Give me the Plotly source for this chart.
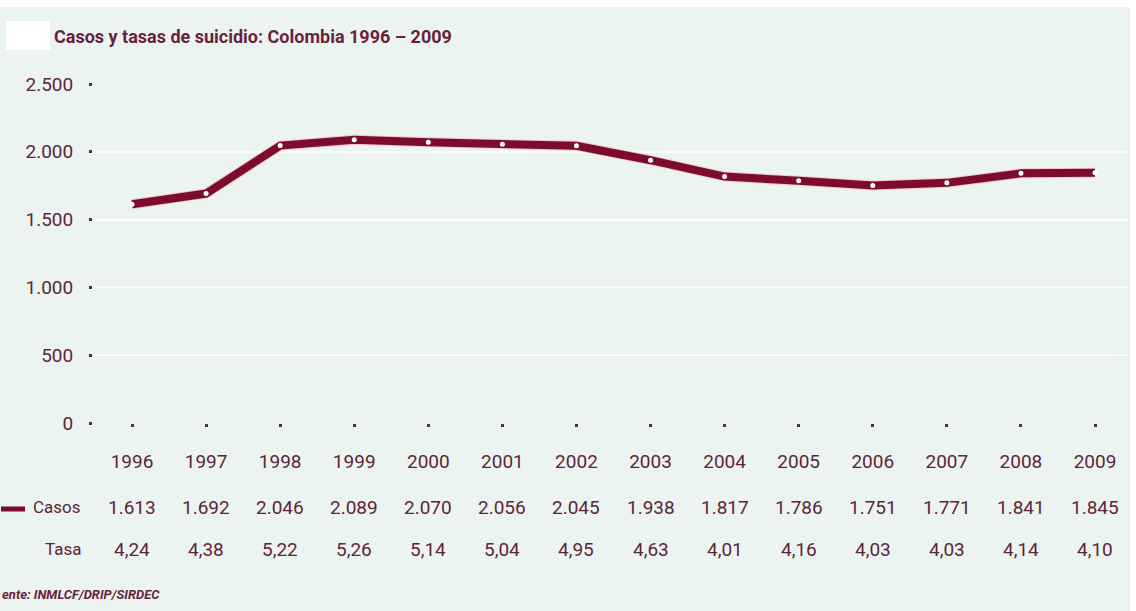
import plotly.graph_objects as go

# Data: suicide cases and rates in Colombia
years = [1996, 1997, 1998, 1999, 2000, 2001, 2002, 2003, 2004, 2005, 2006, 2007, 2008, 2009]
casos = [1613, 1692, 2046, 2089, 2070, 2056, 2045, 1938, 1817, 1786, 1751, 1771, 1841, 1845]
tasa = [4.24, 4.38, 5.22, 5.26, 5.14, 5.04, 4.95, 4.63, 4.01, 4.16, 4.03, 4.03, 4.14, 4.10]
y_ticks = [0, 500, 1000, 1500, 2000, 2500]
y_ticktext = ["0", "500", "1.000", "1.500", "2.000", "2.500"]

W, H = 1136, 611
ML, MR, MT, MB = 93, 8, 84, 188
PW, PH = W - ML - MR, H - MT - MB

FONT = "Roboto, Liberation Sans, sans-serif"
TEXT = "#5e2538"
MAROON = "#7b0c2c"
PAGE = "#ecf4f1"
PLOT = "#d6e9e1"
FS = 19


def px(x):
    return (x - ML) / PW


def py(y):
    return (MT + PH - y) / PH


def fmt_int(v):
    return f"{v:,}".replace(",", ".")


def fmt_dec(v):
    return f"{v:.2f}".replace(".", ",")


fig = go.Figure()

# light halo under the line
fig.add_trace(go.Scatter(
    x=years, y=casos, mode="lines",
    line=dict(color="#f1c6cd", width=10),
    hoverinfo="skip", showlegend=False,
))
fig.add_trace(go.Scatter(
    x=years, y=casos, mode="lines+markers",
    line=dict(color=MAROON, width=8),
    marker=dict(color="white", size=5),
    showlegend=False,
))

annotations = []
for yr, c, t in zip(years, casos, tasa):
    annotations.append(dict(x=yr, xref="x", y=py(507), yref="paper", text=fmt_int(c),
                            showarrow=False, xanchor="center", yanchor="middle",
                            font=dict(family=FONT, size=FS, color=TEXT)))
    annotations.append(dict(x=yr, xref="x", y=py(549), yref="paper", text=fmt_dec(t),
                            showarrow=False, xanchor="center", yanchor="middle",
                            font=dict(family=FONT, size=FS, color=TEXT)))

annotations += [
    dict(x=px(83), y=py(507), xref="paper", yref="paper", text="Casos", showarrow=False,
         xanchor="right", yanchor="middle", font=dict(family=FONT, size=17, color=TEXT)),
    dict(x=px(83), y=py(549), xref="paper", yref="paper", text="Tasa", showarrow=False,
         xanchor="right", yanchor="middle", font=dict(family=FONT, size=17, color=TEXT)),
    dict(x=px(52), y=py(36), xref="paper", yref="paper",
         text="<b>Casos y tasas de suicidio: Colombia 1996 – 2009</b>", showarrow=False,
         xanchor="left", yanchor="middle", font=dict(family=FONT, size=18, color="#6a1f3e")),
    dict(x=px(0), y=py(594), xref="paper", yref="paper",
         text="<b><i>ente: INMLCF/DRIP/SIRDEC</i></b>", showarrow=False,
         xanchor="left", yanchor="middle", font=dict(family=FONT, size=13, color="#6a1f3e")),
]

shapes = [
    # page background with white borders
    dict(type="rect", xref="paper", yref="paper", x0=px(0), x1=px(1130), y0=py(611), y1=py(7),
         fillcolor=PAGE, line=dict(width=0), layer="below"),
    # white patch at top-left
    dict(type="rect", xref="paper", yref="paper", x0=px(6), x1=px(50), y0=py(50), y1=py(21),
         fillcolor="white", line=dict(width=0), layer="below"),
    # legend line for Casos
    dict(type="line", xref="paper", yref="paper", x0=px(1), x1=px(25), y0=py(509), y1=py(509),
         line=dict(color=MAROON, width=5)),
]

fig.update_layout(
    width=W, height=H,
    margin=dict(l=ML, r=MR, t=MT, b=MB, pad=0),
    paper_bgcolor="white",
    plot_bgcolor=PLOT,
    showlegend=False,
    annotations=annotations,
    shapes=shapes,
    xaxis=dict(
        range=[1996 - 39 / 74.08, 2009 + 33 / 74.08],
        tickmode="array", tickvals=years, ticktext=[str(y) for y in years],
        showgrid=False, zeroline=False, showline=False,
        ticks="outside", ticklen=3, tickwidth=3, tickcolor="#3a3a3a",
        ticklabelstandoff=18,
        tickfont=dict(family=FONT, size=FS, color=TEXT),
        fixedrange=True,
    ),
    yaxis=dict(
        range=[0, 2500],
        tickmode="array", tickvals=y_ticks, ticktext=y_ticktext,
        showgrid=True, gridcolor="rgba(255,255,255,0.8)", gridwidth=1.5,
        zeroline=False, showline=False,
        ticks="outside", ticklen=3, tickwidth=3, tickcolor="#3a3a3a",
        ticklabelstandoff=12,
        tickfont=dict(family=FONT, size=FS, color=TEXT),
        fixedrange=True,
    ),
)

fig.write_html("out.html")
